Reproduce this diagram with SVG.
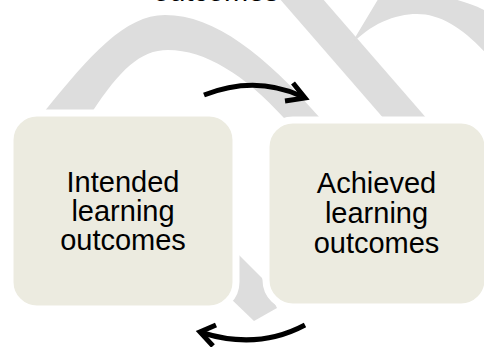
<svg xmlns="http://www.w3.org/2000/svg" width="484" height="347" viewBox="0 0 484 347">
  <style>
    .wm { fill: #dddddd; stroke: none; }
    .box { fill: #ecebe0; stroke: #ffffff; stroke-width: 7; }
    .lbl { font-family: "Liberation Sans", Arial, sans-serif; font-size: 29px; fill: #000000; text-anchor: middle; }
    .arc { fill: none; stroke: #000000; stroke-width: 5; stroke-linecap: butt; stroke-linejoin: miter; }
  </style>
  <rect x="0" y="0" width="484" height="347" fill="#ffffff"/>

  <g id="cycle-arrows">
    <path class="wm" d="M44,112 C90,55 125,15 165,15 C215,15 265,55 320,118 L284,118 C245,75 205,50 168,50 C140,50 120,70 92,112 Z"/>
    <path class="wm" d="M279,-2 L322,-2 L428,120 L385,120 Z"/>
    <path class="wm" d="M350,46 C370,24 395,14 417,14 C442,14 466,30 492,60 L492,14 C470,2 448,-4 428,-4 L380,-4 Z"/>
    <path class="wm" d="M230,246 L262,278 L277,308 L254,321 L228,296 Z"/>
  </g>

  <g id="node-top">
    <text class="lbl" x="216" y="0.5">outcomes</text>
  </g>

  <g id="node-intended">
    <rect class="box" x="10" y="113" width="226" height="196" rx="27" ry="27"/>
    <text class="lbl" x="123" y="192">Intended</text>
    <text class="lbl" x="123" y="221">learning</text>
    <text class="lbl" x="123" y="250">outcomes</text>
  </g>

  <g id="node-achieved">
    <rect class="box" x="266" y="120" width="222" height="187" rx="27" ry="27"/>
    <text class="lbl" x="376.5" y="193">Achieved</text>
    <text class="lbl" x="376.5" y="223">learning</text>
    <text class="lbl" x="376.5" y="253">outcomes</text>
  </g>

  <g id="connectors">
    <path class="arc" d="M204,95 Q255,75 301,96"/>
    <polyline class="arc" points="293,83 305,98 285,101"/>
    <path class="arc" d="M305,325 Q258,350 203,333"/>
    <polyline class="arc" points="216,325 200,332 213,346"/>
  </g>
</svg>
